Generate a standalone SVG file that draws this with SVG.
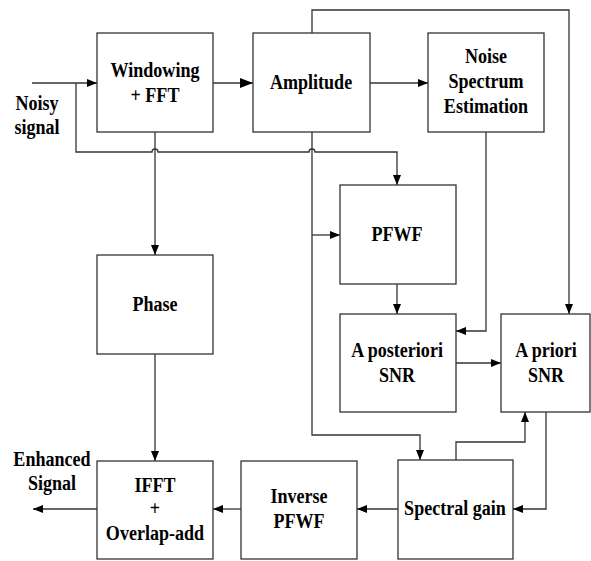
<svg xmlns="http://www.w3.org/2000/svg" width="591" height="561" viewBox="0 0 591 561">
  <style>
    .box { fill: #ffffff; stroke: #333333; stroke-width: 1.3; }
    .wire { fill: none; stroke: #333333; stroke-width: 1.3; }
    text { font-family: "Liberation Serif", "Times New Roman", serif; font-weight: bold; font-size: 21px; fill: #000000; text-anchor: middle; transform: scaleX(0.86); transform-box: fill-box; transform-origin: center; }
  </style>
  <defs>
    <marker id="arrow" markerUnits="userSpaceOnUse" markerWidth="10" markerHeight="8" refX="10" refY="4" orient="auto">
      <path d="M0,0 L10,4 L0,8 z" fill="#000000"/>
    </marker>
    <marker id="arrow-lg" markerUnits="userSpaceOnUse" markerWidth="13" markerHeight="10" refX="13" refY="5" orient="auto">
      <path d="M0,0 L13,5 L0,10 z" fill="#000000"/>
    </marker>
  </defs>

  <rect width="591" height="561" fill="#ffffff"/>

  <g id="connectors">
    <path class="wire" d="M32,83 H97" marker-end="url(#arrow)"/>
    <path class="wire" d="M76,83 V152 H152 a3,3 0 0 1 6,0 H309 a3,3 0 0 1 6,0 H397 V185" marker-end="url(#arrow)"/>
    <path class="wire" d="M213,83 H253" marker-end="url(#arrow-lg)"/>
    <path class="wire" d="M370,83 H428" marker-end="url(#arrow)"/>
    <path class="wire" d="M312,33 V10 H569 V314" marker-end="url(#arrow)"/>
    <path class="wire" d="M155,132 V255" marker-end="url(#arrow)"/>
    <path class="wire" d="M312,132 V435 H420 V460" marker-end="url(#arrow)"/>
    <path class="wire" d="M312,235 H340" marker-end="url(#arrow)"/>
    <path class="wire" d="M397,284 V314" marker-end="url(#arrow)"/>
    <path class="wire" d="M486,132 V331 H456" marker-end="url(#arrow)"/>
    <path class="wire" d="M456,363 H501" marker-end="url(#arrow)"/>
    <path class="wire" d="M456,460 V442 H525 V412" marker-end="url(#arrow)"/>
    <path class="wire" d="M546,412 V509 H513" marker-end="url(#arrow)"/>
    <path class="wire" d="M398,509 H357" marker-end="url(#arrow)"/>
    <path class="wire" d="M241,509 H213" marker-end="url(#arrow)"/>
    <path class="wire" d="M97,509 H33" marker-end="url(#arrow)"/>
    <path class="wire" d="M155,354 V461" marker-end="url(#arrow)"/>
  </g>

  <g id="input-label">
    <text x="37" y="110">Noisy</text>
    <text x="37" y="134">signal</text>
  </g>

  <g id="output-label">
    <text x="52" y="466">Enhanced</text>
    <text x="52" y="490">Signal</text>
  </g>

  <g id="windowing-fft">
    <rect class="box" x="97" y="33" width="116" height="99"/>
    <text x="155" y="77">Windowing</text>
    <text x="155" y="102">+ FFT</text>
  </g>

  <g id="amplitude">
    <rect class="box" x="253" y="33" width="117" height="99"/>
    <text x="311" y="89">Amplitude</text>
  </g>

  <g id="noise-estimation">
    <rect class="box" x="428" y="33" width="116" height="99"/>
    <text x="486" y="63">Noise</text>
    <text x="486" y="88">Spectrum</text>
    <text x="486" y="113">Estimation</text>
  </g>

  <g id="phase">
    <rect class="box" x="97" y="255" width="116" height="99"/>
    <text x="155" y="311">Phase</text>
  </g>

  <g id="pfwf">
    <rect class="box" x="340" y="185" width="116" height="99"/>
    <text x="397" y="241">PFWF</text>
  </g>

  <g id="a-posteriori-snr">
    <rect class="box" x="340" y="314" width="116" height="98"/>
    <text x="397" y="357">A posteriori</text>
    <text x="397" y="382">SNR</text>
  </g>

  <g id="a-priori-snr">
    <rect class="box" x="501" y="314" width="89" height="98"/>
    <text x="546" y="357">A priori</text>
    <text x="546" y="382">SNR</text>
  </g>

  <g id="spectral-gain">
    <rect class="box" x="398" y="460" width="115" height="99"/>
    <text x="455" y="515">Spectral gain</text>
  </g>

  <g id="inverse-pfwf">
    <rect class="box" x="241" y="461" width="116" height="98"/>
    <text x="299" y="503">Inverse</text>
    <text x="299" y="528">PFWF</text>
  </g>

  <g id="ifft-overlap-add">
    <rect class="box" x="97" y="461" width="116" height="98"/>
    <text x="155" y="492">IFFT</text>
    <text x="155" y="515">+</text>
    <text x="155" y="540">Overlap-add</text>
  </g>
</svg>
